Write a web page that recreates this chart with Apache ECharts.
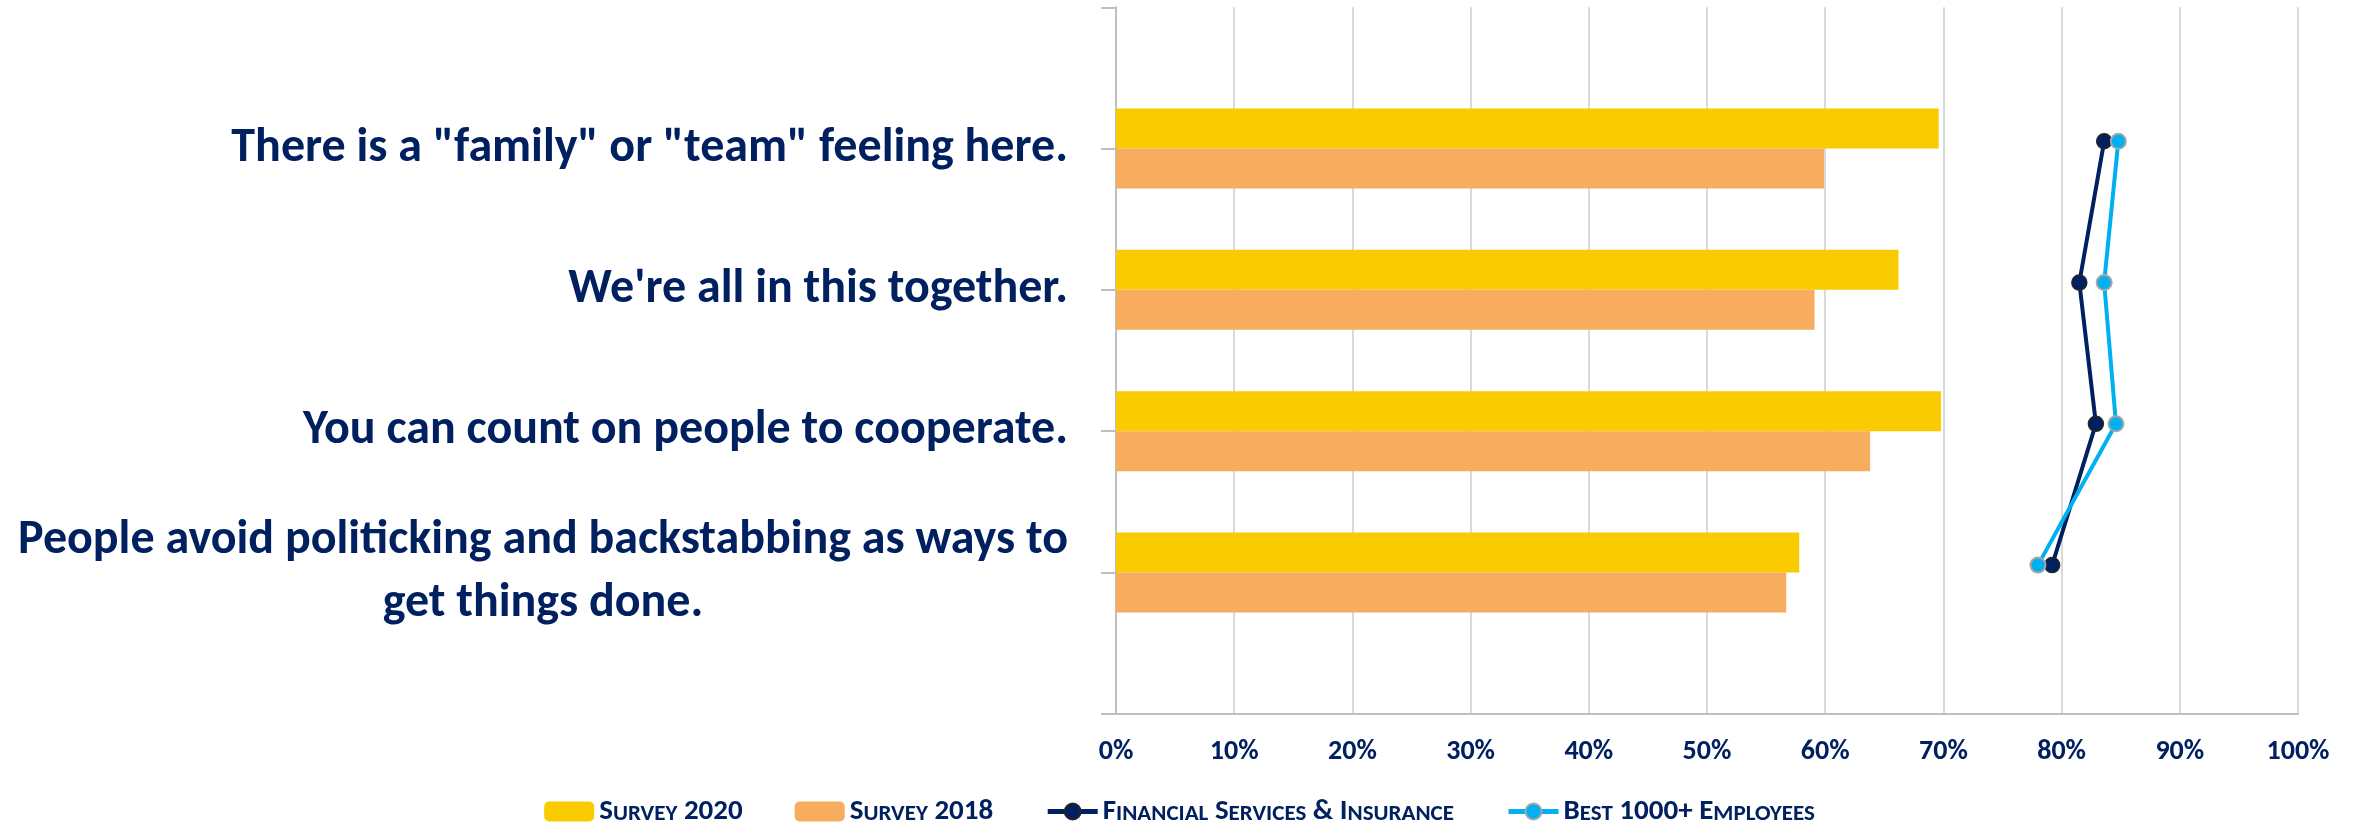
<!DOCTYPE html>
<html>
<head>
<meta charset="utf-8">
<script src="https://cdn.jsdelivr.net/npm/echarts@6/dist/echarts.min.js"></script>
<style>
  html, body { margin: 0; padding: 0; background: #ffffff; }
  #chart { width: 2359px; height: 824px; }
</style>
</head>
<body>
<div id="chart"></div>
<script>
// Statements (top to bottom)
const categories = [
  'There is a "family" or "team" feeling here.',
  "We're all in this together.",
  'You can count on people to cooperate.',
  'People avoid politicking and backstabbing as ways to\nget things done.'
];
// Share of positive responses, in percent
const survey2020 = [69.6, 66.2, 69.8, 57.8];
const survey2018 = [59.9, 59.1, 63.8, 56.7];
const financialServices = [83.6, 81.5, 82.9, 79.2];
const best1000 = [84.8, 83.6, 84.6, 78.0];
const seriesNames = ['Survey 2020', 'Survey 2018', 'Financial Services & Insurance', 'Best 1000+ Employees'];
const xTicks = [0, 10, 20, 30, 40, 50, 60, 70, 80, 90, 100];

const FONT = "Carlito, 'Liberation Sans Narrow', 'Open Sans', sans-serif";
const NAVY = '#002060';
const CAT_SIZE = 48;

// The category axis keeps a blank slot above and below the statements
const padded = arr => ['-', ...arr, '-'];
const yCats = ['', ...categories, ''];

// Width of the widest line of the wrapped statement, so its lines can be centred
function textWidth(str, font) {
  const ctx = document.createElement('canvas').getContext('2d');
  ctx.font = font;
  return ctx.measureText(str).width;
}
let wrapWidth = 0;
categories.forEach(c => {
  const lines = c.split('\n');
  if (lines.length > 1) {
    lines.forEach(l => { wrapWidth = Math.max(wrapWidth, textWidth(l, `bold ${CAT_SIZE}px ${FONT}`)); });
  }
});

// Legend names in small capitals
function smallCaps(name) {
  return name.split(' ').map(word => {
    if (/^[A-Za-z]/.test(word)) {
      return '{a|' + word[0].toUpperCase() + '}{b|' + word.slice(1).toUpperCase() + '}';
    }
    return '{a|' + word + '}';
  }).join('{a| }');
}

const chart = echarts.init(document.getElementById('chart'), null, { renderer: 'canvas' });

const option = {
  backgroundColor: '#ffffff',
  animation: false,
  grid: [
    { left: 1116, right: 61, top: 7.3, bottom: 110.3, containLabel: false },
    { left: 1116, right: 61, top: 0, bottom: 117.6, containLabel: false }
  ],
  legend: {
    left: 'center',
    top: 792,
    itemWidth: 50,
    itemHeight: 20,
    itemGap: 52,
    data: seriesNames,
    formatter: smallCaps,
    lineStyle: { width: 5 },
    textStyle: {
      color: NAVY,
      fontFamily: FONT,
      fontWeight: 'bold',
      rich: {
        a: { fontSize: 29, fontWeight: 'bold', fontFamily: FONT, color: NAVY, lineHeight: 29, verticalAlign: 'bottom' },
        b: { fontSize: 23, fontWeight: 'bold', fontFamily: FONT, color: NAVY, lineHeight: 23, verticalAlign: 'bottom' }
      }
    }
  },
  xAxis: [
    {
      type: 'value',
      gridIndex: 0,
      min: xTicks[0],
      max: xTicks[xTicks.length - 1],
      interval: xTicks[1] - xTicks[0],
      axisLine: { show: true, lineStyle: { color: '#bfbfbf', width: 2 } },
      axisTick: { show: false },
      splitLine: { show: true, lineStyle: { color: '#d9d9d9', width: 2 } },
      axisLabel: {
        formatter: '{value}%',
        color: NAVY,
        fontFamily: FONT,
        fontWeight: 'bold',
        fontSize: 28,
        margin: 24
      }
    },
    {
      type: 'value',
      gridIndex: 1,
      min: xTicks[0],
      max: xTicks[xTicks.length - 1],
      show: false
    }
  ],
  yAxis: [
    {
      type: 'category',
      gridIndex: 0,
      data: yCats,
      inverse: true,
      boundaryGap: false,
      axisLine: { show: true, lineStyle: { color: '#bfbfbf', width: 2 } },
      axisTick: { show: true, interval: 0, length: 15, lineStyle: { color: '#bfbfbf', width: 2 } },
      splitLine: { show: false },
      axisLabel: {
        interval: 0,
        margin: 48,
        color: NAVY,
        fontFamily: FONT,
        fontWeight: 'bold',
        fontSize: CAT_SIZE,
        lineHeight: 63,
        formatter: value => {
          const lines = value.split('\n');
          if (lines.length === 1) return value;
          return lines.map(l => '{w|' + l + '}').join('\n');
        },
        rich: {
          w: {
            width: wrapWidth,
            align: 'center',
            color: NAVY,
            fontFamily: FONT,
            fontWeight: 'bold',
            fontSize: CAT_SIZE,
            lineHeight: 63
          }
        }
      }
    },
    {
      type: 'category',
      gridIndex: 1,
      data: yCats,
      inverse: true,
      boundaryGap: false,
      show: false
    }
  ],
  series: [
    {
      name: seriesNames[0],
      type: 'bar',
      xAxisIndex: 0,
      yAxisIndex: 0,
      data: padded(survey2020),
      barWidth: 40,
      barGap: '0%',
      itemStyle: { color: '#f9cb00' }
    },
    {
      name: seriesNames[1],
      type: 'bar',
      xAxisIndex: 0,
      yAxisIndex: 0,
      data: padded(survey2018),
      barWidth: 40,
      barGap: '0%',
      itemStyle: { color: '#f7ac5e' }
    },
    {
      name: seriesNames[2],
      type: 'line',
      xAxisIndex: 1,
      yAxisIndex: 1,
      data: padded(financialServices),
      symbol: 'circle',
      symbolSize: 15,
      showAllSymbol: true,
      lineStyle: { color: '#002060', width: 4 },
      itemStyle: { color: '#002060', borderColor: '#262626', borderWidth: 1.5 },
      z: 5
    },
    {
      name: seriesNames[3],
      type: 'line',
      xAxisIndex: 1,
      yAxisIndex: 1,
      data: padded(best1000),
      symbol: 'circle',
      symbolSize: 15,
      showAllSymbol: true,
      lineStyle: { color: '#00b0f0', width: 4 },
      itemStyle: { color: '#00b0f0', borderColor: '#a6a6a6', borderWidth: 2 },
      z: 5
    }
  ]
};

chart.setOption(option);
</script>
</body>
</html>
